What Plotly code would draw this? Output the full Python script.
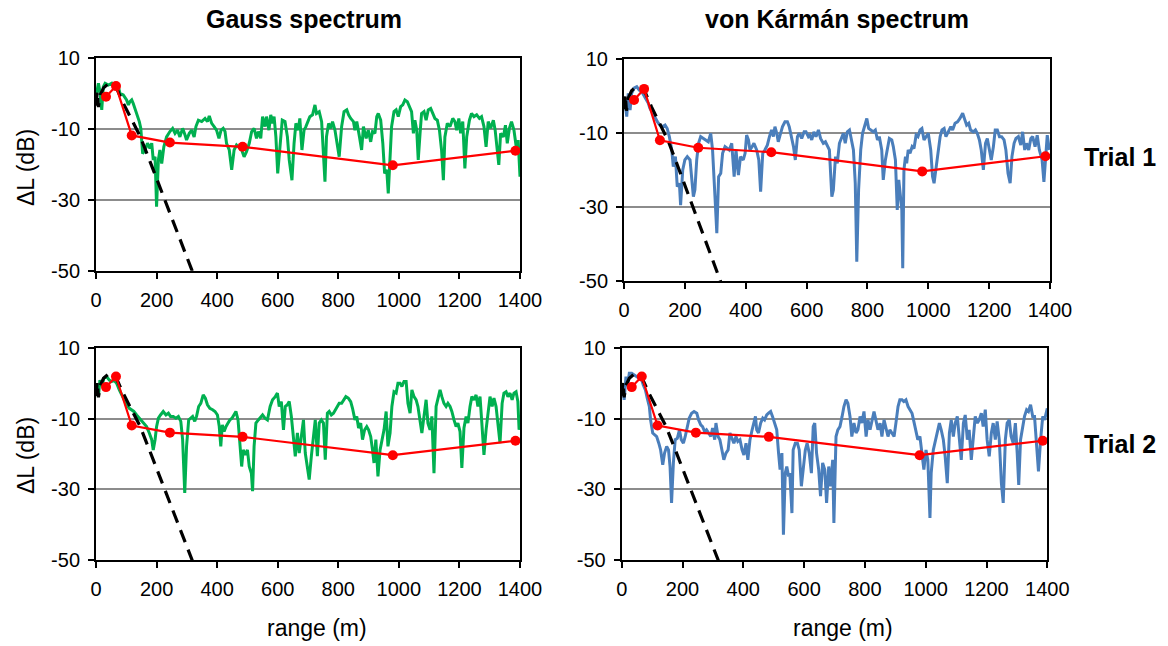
import plotly.graph_objects as go

# ---------------- data ----------------
# Level difference ΔL (dB) versus range (m) for four turbulence realisations

gauss_t1_range = [
    2, 8, 13, 19, 24, 30, 41, 52, 63, 74,
    79, 90, 101, 107, 112, 118, 123, 129, 134, 143,
    148, 154, 162, 170, 178, 184, 189, 195, 200, 206,
    211, 217, 224, 233, 244, 253, 261, 269, 277, 286,
    294, 299, 308, 316, 324, 330, 338, 349, 360, 368,
    374, 382, 390, 398, 406, 413, 420, 426, 431, 440,
    448, 456, 464, 473, 481, 489, 497, 506, 514, 522,
    530, 536, 544, 550, 558, 563, 571, 577, 583, 588,
    594, 600, 607, 615, 624, 632, 638, 647, 654, 660,
    668, 673, 680, 687, 693, 701, 706, 715, 723, 728,
    737, 745, 750, 756, 761, 768, 775, 781, 789, 797,
    803, 811, 819, 828, 834, 841, 850, 855, 861, 870,
    877, 883, 892, 899, 907, 913, 921, 927, 932, 940,
    947, 953, 960, 965, 971, 976, 984, 991, 998, 1006,
    1013, 1020, 1028, 1035, 1042, 1048, 1053, 1059, 1064, 1070,
    1075, 1083, 1090, 1097, 1105, 1112, 1119, 1127, 1134, 1141,
    1147, 1152, 1160, 1169, 1178, 1185, 1191, 1198, 1204, 1211,
    1218, 1224, 1233, 1240, 1248, 1257, 1266, 1273, 1281, 1288,
    1295, 1303, 1312, 1318, 1325, 1330, 1336, 1345, 1352, 1358,
    1365, 1372, 1380, 1389, 1394, 1400,
]
gauss_t1_level = [
    0.0, 2.8, 0.4, -4.7, 1.8, 2.8, 2.3, 2.8, 1.4, 1.8,
    0.0, -0.5, -1.9, -3.3, -2.4, -1.9, -2.9, -4.3, -5.7, -8.0,
    -9.9, -17.0, -16.0, -14.1, -15.5, -14.1, -18.8, -17.9, -32.0, -18.8,
    -16.0, -19.8, -15.1, -12.3, -10.8, -9.9, -11.3, -10.4, -12.3, -9.9,
    -11.8, -13.2, -11.3, -10.4, -12.3, -9.4, -7.6, -8.0, -7.1, -8.0,
    -6.4, -8.5, -9.4, -10.4, -12.7, -10.4, -9.9, -10.8, -14.1, -16.0,
    -21.6, -16.0, -14.6, -15.5, -16.0, -17.9, -16.5, -14.1, -10.8, -9.9,
    -12.7, -10.8, -12.7, -6.6, -9.4, -6.6, -10.4, -6.1, -8.5, -6.6,
    -12.3, -22.6, -16.0, -7.6, -8.0, -12.3, -18.8, -24.5, -14.1, -8.5,
    -10.4, -7.1, -16.0, -10.4, -9.4, -7.6, -6.6, -6.1, -3.3, -5.7,
    -5.2, -8.0, -16.0, -24.9, -12.3, -8.5, -9.9, -8.0, -10.4, -14.6,
    -17.9, -9.4, -5.2, -4.7, -6.1, -7.1, -8.0, -10.4, -8.0, -12.3,
    -16.0, -9.4, -12.7, -10.4, -13.7, -10.8, -11.3, -6.6, -5.7, -7.6,
    -14.1, -22.6, -21.6, -28.2, -16.0, -9.4, -5.2, -4.7, -6.6, -3.8,
    -3.3, -1.9, -2.4, -3.8, -5.2, -11.3, -7.6, -10.4, -18.8, -11.3,
    -5.7, -5.2, -7.6, -4.7, -4.3, -5.7, -7.1, -7.6, -10.4, -16.0,
    -24.5, -12.3, -8.5, -9.4, -7.1, -8.0, -10.4, -7.1, -11.3, -8.0,
    -21.2, -12.3, -7.6, -5.7, -6.6, -6.1, -7.1, -6.6, -9.4, -15.1,
    -8.0, -9.9, -7.6, -10.4, -16.0, -20.2, -11.3, -12.3, -9.0, -14.1,
    -9.9, -8.0, -10.4, -16.0, -13.2, -23.5,
]

karman_t1_range = [
    3, 9, 14, 20, 25, 33, 42, 50, 58, 64,
    72, 80, 85, 94, 102, 110, 118, 127, 135, 142,
    149, 157, 162, 169, 175, 182, 186, 193, 200, 208,
    217, 222, 228, 233, 239, 245, 252, 261, 270, 277,
    285, 291, 299, 305, 311, 318, 324, 332, 340, 346,
    354, 362, 368, 376, 383, 392, 398, 403, 409, 414,
    421, 427, 436, 443, 449, 456, 463, 471, 478, 485,
    491, 496, 502, 507, 513, 521, 529, 537, 543, 551,
    557, 563, 570, 576, 584, 592, 598, 606, 611, 617,
    624, 631, 639, 646, 655, 662, 668, 675, 683, 688,
    695, 701, 708, 714, 721, 727, 734, 741, 747, 754,
    760, 765, 771, 778, 784, 791, 798, 804, 811, 819,
    826, 833, 839, 847, 852, 859, 865, 872, 880, 885,
    892, 898, 903, 907, 913, 916, 920, 925, 929, 934,
    940, 947, 953, 960, 966, 973, 979, 986, 993, 1000,
    1008, 1014, 1019, 1025, 1032, 1039, 1045, 1052, 1058, 1066,
    1074, 1080, 1088, 1096, 1104, 1113, 1120, 1126, 1133, 1139,
    1148, 1155, 1161, 1168, 1174, 1181, 1188, 1194, 1201, 1207,
    1214, 1220, 1227, 1234, 1241, 1249, 1255, 1262, 1269, 1275,
    1282, 1288, 1296, 1304, 1310, 1317, 1323, 1330, 1337, 1343,
    1351, 1358, 1365, 1374, 1380, 1387, 1391, 1398,
]
karman_t1_level = [
    -1.0, -5.5, 0.8, -3.7, 0.8, 2.2, 2.6, 1.7, 1.3, 0.4,
    -0.5, -1.9, -3.2, -4.6, -5.5, -6.9, -7.8, -8.2, -7.8, -8.7,
    -10.9, -14.5, -19.0, -16.3, -24.4, -23.5, -29.4, -19.9, -17.2, -16.3,
    -17.2, -22.6, -27.1, -25.3, -17.2, -12.7, -10.9, -11.4, -11.8, -12.3,
    -10.0, -14.5, -27.1, -37.0, -21.7, -20.8, -15.4, -13.6, -14.1, -14.5,
    -12.7, -21.7, -14.5, -21.3, -16.3, -17.2, -15.4, -10.5, -11.8, -14.5,
    -13.6, -12.7, -14.5, -17.2, -25.8, -15.4, -14.5, -13.2, -10.9, -9.1,
    -10.9, -8.2, -10.0, -12.3, -10.5, -8.2, -6.9, -6.9, -8.2, -11.4,
    -13.6, -17.2, -10.9, -10.0, -11.4, -9.6, -9.6, -10.9, -10.5, -11.8,
    -9.6, -10.9, -9.1, -11.4, -12.7, -12.3, -13.2, -14.5, -27.1, -25.3,
    -16.3, -18.1, -12.7, -11.4, -10.0, -12.7, -9.6, -9.1, -11.8, -14.5,
    -23.5, -44.7, -25.3, -14.5, -10.0, -8.2, -6.0, -8.7, -9.1, -9.6,
    -9.1, -11.8, -10.9, -14.5, -22.6, -17.2, -14.5, -11.4, -11.8, -13.6,
    -17.2, -30.7, -22.6, -25.3, -30.7, -46.5, -19.9, -16.3, -18.1, -14.5,
    -15.4, -13.6, -14.1, -10.5, -10.9, -9.1, -8.7, -11.8, -10.9, -10.0,
    -14.5, -21.7, -23.5, -19.9, -14.5, -10.9, -9.1, -8.7, -10.9, -9.6,
    -8.2, -9.1, -7.3, -6.9, -6.0, -4.6, -6.4, -7.8, -7.3, -9.1,
    -9.6, -9.1, -10.0, -11.8, -14.5, -19.9, -12.7, -11.4, -14.5, -17.2,
    -13.6, -9.1, -9.1, -10.9, -10.9, -11.8, -14.5, -20.8, -23.5, -16.3,
    -12.7, -11.4, -10.9, -13.2, -9.6, -14.5, -12.7, -14.5, -11.4, -10.9,
    -13.6, -10.5, -14.5, -17.2, -23.1, -14.5, -10.5, -14.5,
]

gauss_t2_range = [
    2, 8, 13, 19, 26, 35, 44, 52, 59, 68,
    77, 85, 92, 101, 110, 118, 125, 134, 143, 151,
    158, 167, 176, 184, 189, 195, 200, 206, 213, 222,
    231, 239, 246, 255, 264, 272, 280, 286, 293, 299,
    306, 313, 319, 326, 332, 339, 346, 354, 361, 368,
    376, 385, 393, 401, 407, 412, 417, 423, 429, 436,
    442, 449, 456, 462, 469, 475, 481, 486, 493, 500,
    506, 513, 517, 522, 528, 536, 544, 550, 558, 566,
    575, 583, 592, 599, 605, 612, 619, 625, 632, 638,
    645, 652, 658, 665, 671, 678, 685, 691, 698, 704,
    711, 718, 724, 731, 737, 744, 751, 757, 764, 770,
    777, 784, 790, 797, 803, 811, 819, 825, 833, 841,
    847, 855, 861, 867, 874, 880, 887, 894, 900, 907,
    913, 918, 924, 931, 938, 944, 951, 958, 964, 971,
    977, 984, 991, 997, 1004, 1010, 1017, 1024, 1030, 1037,
    1043, 1050, 1057, 1063, 1070, 1076, 1083, 1090, 1096, 1103,
    1109, 1116, 1123, 1129, 1136, 1142, 1149, 1156, 1162, 1169,
    1175, 1182, 1189, 1195, 1202, 1208, 1215, 1222, 1228, 1235,
    1241, 1248, 1255, 1261, 1268, 1274, 1281, 1288, 1294, 1301,
    1308, 1314, 1321, 1327, 1334, 1341, 1347, 1354, 1360, 1367,
    1374, 1380, 1387, 1393, 1397, 1400,
]
gauss_t2_level = [
    -1.8, -3.7, 1.0, -0.8, 1.5, 2.0, 1.0, 0.6, 1.0, 0.1,
    -1.8, -3.2, -4.6, -6.0, -7.0, -7.4, -7.9, -8.9, -9.8, -10.7,
    -11.2, -12.2, -14.0, -15.9, -18.8, -15.9, -12.2, -9.8, -8.9, -7.9,
    -8.9, -8.4, -9.3, -9.3, -9.8, -9.3, -10.7, -15.9, -31.0, -17.8,
    -10.3, -9.8, -9.3, -10.7, -9.3, -6.5, -5.6, -3.2, -4.1, -6.0,
    -7.0, -7.4, -7.9, -8.9, -12.2, -17.8, -11.7, -13.6, -12.2, -11.2,
    -10.3, -9.8, -8.9, -7.9, -10.3, -17.8, -23.5, -18.8, -20.2, -18.8,
    -23.5, -25.4, -30.5, -17.8, -11.2, -10.3, -9.3, -8.9, -9.8, -10.3,
    -6.5, -4.6, -3.7, -2.7, -6.5, -5.1, -13.1, -6.5, -6.0, -5.1,
    -9.3, -15.9, -20.6, -14.0, -19.7, -15.0, -10.3, -19.7, -23.5, -27.2,
    -20.6, -15.9, -10.3, -20.6, -11.2, -10.3, -11.2, -21.6, -8.4, -7.9,
    -8.9, -8.4, -7.4, -6.5, -5.6, -5.6, -4.6, -3.7, -4.1, -5.1,
    -7.0, -10.3, -9.3, -12.6, -11.2, -15.9, -13.1, -12.2, -13.1, -15.0,
    -18.8, -22.5, -15.9, -26.3, -18.8, -15.9, -13.1, -7.9, -17.8, -14.0,
    -6.5, -2.3, -2.7, 0.1, 0.1, -0.8, 0.6, 0.6, -5.6, -8.4,
    -1.8, -3.7, -4.6, -6.5, -11.2, -14.0, -9.3, -4.6, -11.2, -13.1,
    -9.3, -25.4, -6.5, -4.6, -1.8, -3.7, -5.6, -6.5, -5.6, -6.5,
    -7.9, -10.3, -12.2, -11.2, -13.6, -23.9, -12.6, -9.3, -11.2, -6.5,
    -3.7, -4.6, -3.2, -6.5, -3.7, -11.2, -20.2, -13.1, -8.4, -3.7,
    -6.5, -4.1, -6.5, -11.2, -16.9, -5.6, -2.7, -2.3, -3.7, -2.7,
    -4.6, -2.7, -2.3, -5.1, -13.1, -9.3,
]

karman_t2_range = [
    3, 8, 14, 19, 25, 33, 40, 49, 58, 66,
    71, 78, 84, 91, 95, 102, 108, 115, 122, 128,
    135, 141, 148, 154, 159, 164, 170, 176, 183, 190,
    196, 203, 209, 216, 222, 230, 238, 247, 253, 260,
    266, 273, 279, 286, 293, 299, 306, 310, 317, 323,
    330, 336, 343, 350, 356, 363, 369, 376, 382, 389,
    396, 402, 409, 415, 422, 429, 435, 440, 444, 450,
    457, 464, 470, 477, 483, 490, 496, 503, 510, 516,
    521, 527, 532, 538, 543, 549, 553, 560, 564, 571,
    578, 584, 591, 597, 604, 610, 617, 624, 630, 635,
    641, 648, 654, 661, 668, 674, 681, 687, 694, 698,
    705, 711, 718, 725, 731, 738, 744, 751, 757, 764,
    771, 777, 784, 790, 797, 804, 810, 817, 823, 830,
    836, 843, 850, 856, 863, 869, 876, 882, 889, 896,
    902, 909, 915, 922, 928, 935, 942, 948, 955, 961,
    968, 974, 981, 988, 994, 1001, 1007, 1014, 1018, 1025,
    1032, 1038, 1045, 1051, 1058, 1064, 1071, 1078, 1084, 1091,
    1097, 1104, 1110, 1117, 1124, 1130, 1137, 1143, 1150, 1156,
    1163, 1170, 1176, 1183, 1189, 1196, 1202, 1209, 1216, 1222,
    1229, 1235, 1242, 1249, 1255, 1262, 1268, 1275, 1281, 1288,
    1295, 1301, 1306, 1312, 1319, 1325, 1332, 1338, 1345, 1352,
    1358, 1365, 1371, 1378, 1385, 1391, 1398, 1400,
]
karman_t2_level = [
    0.1, -4.6, 2.0, -0.8, 2.9, 2.9, 2.5, 2.0, 1.5, 1.0,
    -0.4, -1.8, -4.1, -6.5, -10.3, -14.0, -14.5, -15.0, -16.9, -18.8,
    -23.0, -19.7, -17.8, -18.8, -23.5, -33.8, -22.5, -15.9, -15.5, -13.1,
    -15.9, -16.9, -15.0, -11.7, -9.8, -8.4, -7.9, -8.4, -10.3, -11.7,
    -12.2, -13.6, -13.1, -14.0, -15.0, -12.6, -15.9, -11.2, -15.0, -15.9,
    -19.7, -21.6, -19.7, -18.8, -14.0, -15.9, -16.9, -15.0, -16.4, -15.9,
    -18.8, -20.2, -16.9, -21.6, -15.9, -13.1, -10.7, -9.3, -13.1, -14.0,
    -11.2, -9.8, -10.3, -8.9, -8.4, -7.9, -9.3, -11.2, -13.1, -19.7,
    -24.4, -19.7, -42.8, -25.4, -23.5, -26.3, -25.4, -36.7, -18.8, -16.9,
    -16.9, -18.8, -29.1, -24.4, -18.8, -16.9, -19.7, -25.4, -12.2, -11.2,
    -19.7, -24.4, -31.9, -22.5, -24.4, -33.8, -23.5, -29.1, -21.6, -39.5,
    -15.0, -13.1, -12.2, -9.3, -6.5, -4.6, -5.6, -9.3, -15.0, -11.2,
    -14.0, -13.1, -9.3, -11.2, -7.9, -15.0, -10.3, -13.1, -10.3, -7.9,
    -10.3, -13.1, -11.2, -15.0, -10.3, -12.2, -15.0, -13.1, -14.0, -15.0,
    -11.2, -6.5, -4.6, -4.6, -5.1, -4.6, -6.5, -7.4, -8.4, -10.7,
    -14.0, -15.9, -15.0, -19.7, -24.4, -18.8, -21.6, -38.1, -25.4, -18.8,
    -15.9, -14.0, -11.2, -13.1, -15.9, -20.6, -28.2, -14.0, -10.3, -15.0,
    -11.2, -9.3, -15.9, -21.6, -11.2, -8.9, -15.9, -13.1, -21.6, -15.9,
    -9.3, -11.2, -10.3, -8.4, -12.2, -7.4, -15.9, -20.6, -14.0, -11.2,
    -15.9, -10.7, -15.9, -28.2, -33.8, -15.9, -11.2, -10.3, -15.0, -16.9,
    -11.2, -19.7, -28.7, -15.9, -12.2, -9.3, -7.4, -7.9, -6.0, -9.3,
    -9.3, -17.8, -24.9, -15.9, -9.3, -10.3, -7.9, -7.0,
]

# measured levels (red markers), shared by all panels
measured_range = [33, 66, 118, 244, 484, 980, 1385]
measured_level = [-1.0, 2.0, -11.9, -13.9, -15.1, -20.3, -16.2]

# non-turbulent reference curve (black dashed)
model_range = [0, 4, 8, 14, 25, 40, 55, 70, 90, 120, 145, 175, 320]
model_level = [-3.5, 0.5, -3.9, -0.5, 1.5, 2.6, 2.8, 1.0, -2.8, -7.6, -12.0, -18.5, -50.6]

x_ticks = [0, 200, 400, 600, 800, 1000, 1200, 1400]
y_ticks = [10, -10, -30, -50]

# ---------------- styling ----------------
W, H = 1168, 646
FONT = "Liberation Sans, Arial, sans-serif"
GREEN = "#00B050"
BLUE = "#4A7EBB"
RED = "#FF0000"
GRID = "#8C8C8C"


def fx(px):
    return px / W


def fy(py):
    return 1 - py / H


# plot-area boxes in pixels: (left, right, top, bottom)
panels = [
    dict(box=(96, 520, 57.7, 270.7), r=gauss_t1_range, l=gauss_t1_level, c=GREEN),
    dict(box=(624, 1050, 59.3, 281.3), r=karman_t1_range, l=karman_t1_level, c=BLUE),
    dict(box=(96, 520, 348.3, 560), r=gauss_t2_range, l=gauss_t2_level, c=GREEN),
    dict(box=(621.7, 1047.3, 348.3, 560), r=karman_t2_range, l=karman_t2_level, c=BLUE),
]

fig = go.Figure()
layout_axes = {}

for i, p in enumerate(panels, start=1):
    sfx = "" if i == 1 else str(i)
    xa, ya = "x" + sfx, "y" + sfx
    left, right, top, bottom = p["box"]

    fig.add_trace(go.Scatter(
        x=p["r"], y=p["l"], mode="lines", xaxis=xa, yaxis=ya,
        line=dict(color=p["c"], width=3), showlegend=False, hoverinfo="skip"))
    fig.add_trace(go.Scatter(
        x=model_range, y=model_level, mode="lines", xaxis=xa, yaxis=ya,
        line=dict(color="black", width=3.2, dash="13px,8px"),
        showlegend=False, hoverinfo="skip"))
    fig.add_trace(go.Scatter(
        x=measured_range, y=measured_level, mode="lines+markers",
        xaxis=xa, yaxis=ya,
        line=dict(color=RED, width=2.2),
        marker=dict(color=RED, size=10), cliponaxis=False,
        showlegend=False, hoverinfo="skip"))

    common = dict(
        showline=True, linecolor="black", linewidth=2, mirror=True,
        ticks="outside", ticklen=6, tickwidth=2, tickcolor="black",
        zeroline=False, fixedrange=True, automargin=False,
        tickfont=dict(family=FONT, size=20, color="black"),
    )
    layout_axes["xaxis" + sfx] = dict(
        common, domain=[fx(left), fx(right)], anchor=ya, range=[0, 1400],
        tickmode="array", tickvals=x_ticks, ticktext=[str(v) for v in x_ticks],
        showgrid=False, ticklabelstandoff=4)
    layout_axes["yaxis" + sfx] = dict(
        common, domain=[fy(bottom), fy(top)], anchor=xa, range=[-50, 10],
        tickmode="array", tickvals=y_ticks, ticktext=[str(v) for v in y_ticks],
        showgrid=True, gridcolor=GRID, gridwidth=2, ticklabelstandoff=4)

annotations = []


def label(text, x, y, size, bold=False, angle=0):
    annotations.append(dict(
        text=f"<b>{text}</b>" if bold else text,
        x=fx(x), y=fy(y), xref="paper", yref="paper",
        xanchor="center", yanchor="middle", showarrow=False,
        textangle=angle, font=dict(family=FONT, size=size, color="black")))


label("Gauss spectrum", 303.5, 19, 25, bold=True)
label("von Kármán spectrum", 837, 19, 25, bold=True)
label("Trial 1", 1120, 157, 25, bold=True)
label("Trial 2", 1120, 444, 25, bold=True)
label("ΔL (dB)", 26, 168, 23, angle=-90)
label("ΔL (dB)", 26, 456, 23, angle=-90)
label("range (m)", 317, 628, 23)
label("range (m)", 843, 628, 23)

fig.update_layout(
    width=W, height=H,
    margin=dict(l=0, r=0, t=0, b=0, pad=0, autoexpand=False),
    paper_bgcolor="white", plot_bgcolor="white",
    font=dict(family=FONT, color="black"),
    annotations=annotations,
    showlegend=False,
    **layout_axes,
)

fig.write_html("out.html", config={"displayModeBar": False})
